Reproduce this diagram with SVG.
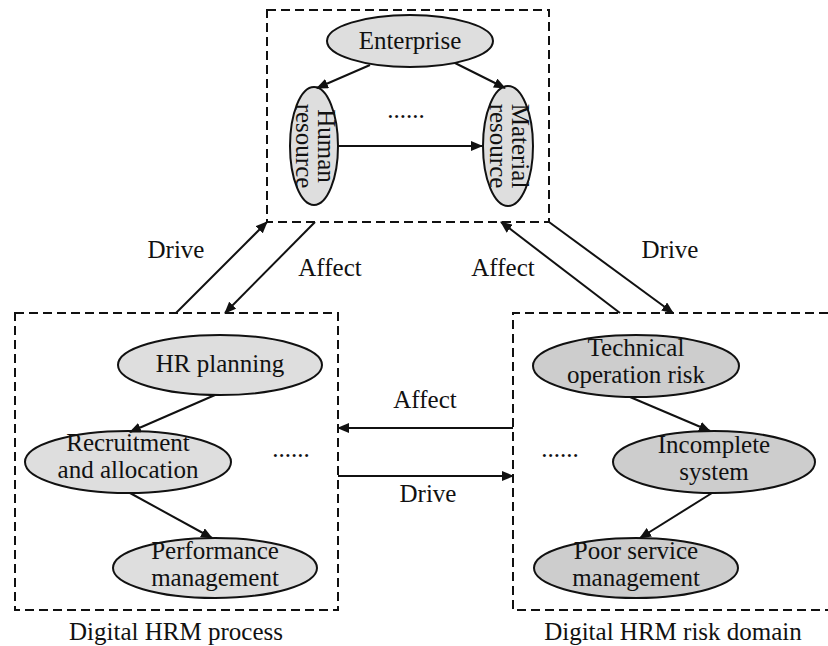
<svg xmlns="http://www.w3.org/2000/svg" width="828" height="646" viewBox="0 0 828 646">
<style>
.box{fill:none;stroke:#111;stroke-width:2;stroke-dasharray:9,5}
.nl{fill:#dedede;stroke:#111;stroke-width:2}
.nr{fill:#cdcdcd;stroke:#111;stroke-width:2}
.lbl{font-size:25px;fill:#111;text-anchor:middle}
.e{stroke:#111;stroke-width:2;fill:none;marker-end:url(#ah)}
</style>
<defs>
<marker id="ah" viewBox="0 0 12 10" refX="11" refY="5" markerWidth="12" markerHeight="10" markerUnits="userSpaceOnUse" orient="auto">
<path d="M0,0 L12,5 L0,10 z" fill="#111"/>
</marker>
</defs>
<rect width="828" height="646" fill="#fff"/>
<g id="group-top"><rect class="box" x="267" y="10" width="282" height="212"/></g>
<g id="group-left"><rect class="box" x="15" y="313" width="323" height="297"/><text class="lbl" style="font-family:'Liberation Serif',serif" x="176" y="640">Digital HRM process</text></g>
<g id="group-right"><path class="box" d="M828,313 L513,313 L513,610 L828,610"/><text class="lbl" style="font-family:'Liberation Serif',serif" x="673" y="640">Digital HRM risk domain</text></g>
<g id="enterprise"><ellipse class="nl" cx="410" cy="41" rx="83" ry="26"/><text class="lbl" style="font-family:'Liberation Serif',serif" x="410" y="49">Enterprise</text></g>
<g id="human"><ellipse class="nl" cx="314" cy="146" rx="24" ry="59"/><text class="lbl" style="font-family:'Liberation Serif',serif" transform="translate(314,146) rotate(90)" x="0" y="-4">Human</text><text class="lbl" style="font-family:'Liberation Serif',serif" transform="translate(314,146) rotate(90)" x="0" y="18">resource</text></g>
<g id="material"><ellipse class="nl" cx="508" cy="146" rx="25" ry="60"/><text class="lbl" style="font-family:'Liberation Serif',serif" transform="translate(508,146) rotate(90)" x="0" y="-4">Material</text><text class="lbl" style="font-family:'Liberation Serif',serif" transform="translate(508,146) rotate(90)" x="0" y="18">resource</text></g>
<g id="dots-top"><text class="lbl" style="font-family:'Liberation Serif',serif" x="406" y="118">......</text></g>
<g id="hrplanning"><ellipse class="nl" cx="220" cy="365" rx="102" ry="30"/><text class="lbl" style="font-family:'Liberation Serif',serif" x="220" y="372">HR planning</text></g>
<g id="recruitment"><ellipse class="nl" cx="128" cy="462" rx="103" ry="31"/><text class="lbl" style="font-family:'Liberation Serif',serif" x="128" y="451">Recruitment</text><text class="lbl" style="font-family:'Liberation Serif',serif" x="128" y="478">and allocation</text></g>
<g id="performance"><ellipse class="nl" cx="215" cy="568" rx="102" ry="30"/><text class="lbl" style="font-family:'Liberation Serif',serif" x="215" y="559">Performance</text><text class="lbl" style="font-family:'Liberation Serif',serif" x="215" y="586">management</text></g>
<g id="dots-left"><text class="lbl" style="font-family:'Liberation Serif',serif" x="291" y="457">......</text></g>
<g id="technical"><ellipse class="nr" cx="636" cy="366" rx="103" ry="31"/><text class="lbl" style="font-family:'Liberation Serif',serif" x="636" y="356">Technical</text><text class="lbl" style="font-family:'Liberation Serif',serif" x="636" y="383">operation risk</text></g>
<g id="incomplete"><ellipse class="nr" cx="714" cy="462" rx="101" ry="31"/><text class="lbl" style="font-family:'Liberation Serif',serif" x="714" y="453">Incomplete</text><text class="lbl" style="font-family:'Liberation Serif',serif" x="714" y="480">system</text></g>
<g id="poor"><ellipse class="nr" cx="636" cy="568" rx="102" ry="30"/><text class="lbl" style="font-family:'Liberation Serif',serif" x="636" y="559">Poor service</text><text class="lbl" style="font-family:'Liberation Serif',serif" x="636" y="586">management</text></g>
<g id="dots-right"><text class="lbl" style="font-family:'Liberation Serif',serif" x="560" y="457">......</text></g>
<g id="connectors">
<line class="e" x1="370" y1="65" x2="317" y2="88"/>
<line class="e" x1="455" y1="63" x2="505" y2="88"/>
<line class="e" x1="338" y1="146" x2="482" y2="146"/>
<line class="e" x1="176" y1="313" x2="267" y2="222"/>
<line class="e" x1="315" y1="222" x2="225" y2="313"/>
<line class="e" x1="620" y1="313" x2="501" y2="222"/>
<line class="e" x1="549" y1="222" x2="673" y2="313"/>
<line class="e" x1="513" y1="428" x2="338" y2="428"/>
<line class="e" x1="338" y1="476" x2="513" y2="476"/>
<line class="e" x1="215" y1="395" x2="130" y2="432"/>
<line class="e" x1="130" y1="493" x2="212" y2="538"/>
<line class="e" x1="630" y1="397" x2="710" y2="431"/>
<line class="e" x1="712" y1="493" x2="640" y2="538"/>
</g>
<g id="labels">
<text class="lbl" style="font-family:'Liberation Serif',serif" x="176" y="258">Drive</text>
<text class="lbl" style="font-family:'Liberation Serif',serif" x="330" y="276">Affect</text>
<text class="lbl" style="font-family:'Liberation Serif',serif" x="503" y="276">Affect</text>
<text class="lbl" style="font-family:'Liberation Serif',serif" x="670" y="258">Drive</text>
<text class="lbl" style="font-family:'Liberation Serif',serif" x="425" y="408">Affect</text>
<text class="lbl" style="font-family:'Liberation Serif',serif" x="428" y="502">Drive</text>
</g>
</svg>
